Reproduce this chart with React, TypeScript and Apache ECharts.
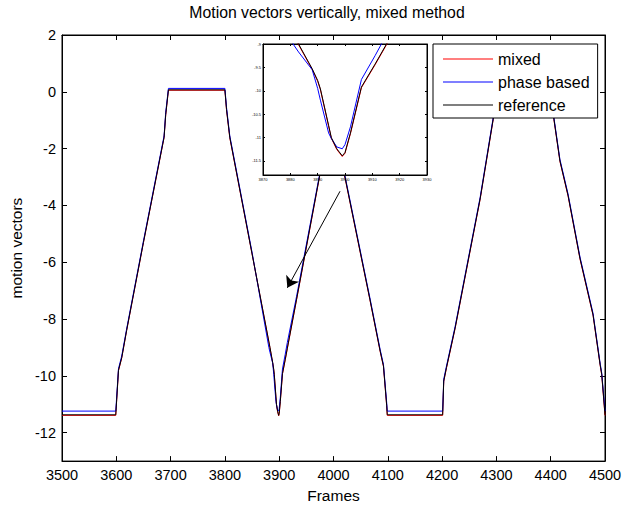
import React, { useEffect, useRef } from "react";
import * as echarts from "echarts";

const frames = [3500, 3599, 3604, 3610, 3619, 3650, 3688, 3691, 3696, 3800, 3803, 3809, 3850, 3881, 3883, 3888, 3890, 3891, 3894, 3895, 3897, 3899, 3900, 3902, 3906, 3911, 3915, 3932, 3975, 3990, 3997, 4004, 4020, 4067, 4086, 4092, 4098, 4099, 4201, 4203, 4208, 4224, 4270, 4294, 4298, 4300, 4400, 4406, 4417, 4432, 4454, 4478, 4491, 4494, 4500];

const mixed = [-11.39, -11.39, -9.82, -9.37, -8.41, -5.31, -1.61, -0.82, 0.055, 0.055, -0.64, -1.62, -5.71, -8.81, -9.015, -9.545, -9.795, -9.975, -10.755, -11.015, -11.255, -11.405, -11.335, -10.915, -9.935, -9.445, -9.035, -7.32, -2.92, -1.42, -0.32, -1.12, -2.92, -7.32, -9.15, -9.67, -11.07, -11.39, -11.39, -10.2, -9.73, -8.33, -3.79, -0.99, -0.22, 0.055, 0.055, -0.99, -2.45, -3.67, -5.89, -7.87, -9.62, -9.97, -11.39];

const phaseBased = [-11.24, -11.24, -9.75, -9.3, -8.35, -5.25, -1.55, -0.72, 0.12, 0.12, -0.55, -1.55, -5.65, -9.0, -9.17, -9.55, -9.95, -10.2, -10.9, -11.02, -11.2, -11.24, -11.15, -10.77, -9.76, -9.25, -8.82, -7.2, -2.85, -1.35, -0.25, -1.05, -2.85, -7.25, -9.08, -9.6, -10.95, -11.24, -11.24, -10.12, -9.66, -8.26, -3.72, -0.92, -0.15, 0.12, 0.12, -0.92, -2.38, -3.6, -5.82, -7.8, -9.55, -9.9, -11.24];

const reference = [-11.37, -11.37, -9.8, -9.36, -8.4, -5.3, -1.6, -0.8, 0.07, 0.07, -0.62, -1.6, -5.7, -8.8, -9.0, -9.53, -9.78, -9.96, -10.74, -11.0, -11.24, -11.39, -11.32, -10.9, -9.92, -9.43, -9.02, -7.3, -2.9, -1.4, -0.3, -1.1, -2.9, -7.3, -9.13, -9.65, -11.05, -11.37, -11.37, -10.18, -9.71, -8.31, -3.77, -0.97, -0.2, 0.07, 0.07, -0.97, -2.43, -3.65, -5.87, -7.85, -9.6, -9.95, -11.37];

const seriesNames = ["mixed", "phase based", "reference"];
const seriesColors = ["#ff0000", "#0000ff", "#000000"];

const xTicks = [3500, 3600, 3700, 3800, 3900, 4000, 4100, 4200, 4300, 4400, 4500];
const yTicks = [-12, -10, -8, -6, -4, -2, 0, 2];
const insetXTicks = [3870, 3880, 3890, 3900, 3910, 3920, 3930];
const insetYTicks = [-11.5, -11, -10.5, -10, -9.5, -9];

const arrowFrom = [4012, -3.5];
const arrowTo = [3915, -6.9];

const FONT = "'Liberation Sans', Arial, Helvetica, sans-serif";

export default function App() {
  const ref = useRef<HTMLDivElement>(null);

  useEffect(() => {
    document.body.style.margin = "0";
    const chart = echarts.init(ref.current!, null, { renderer: "svg" });
    const values = [mixed, phaseBased, reference];
    const toData = (v: number[]) => frames.map((f, i) => [f, v[i]]);
    const plain = (v: number) => String(v);

    const mainSeries = values.map((v, i) => ({
      type: "line",
      name: seriesNames[i],
      data: toData(v),
      xAxisIndex: 0,
      yAxisIndex: 0,
      showSymbol: false,
      symbol: "none",
      color: seriesColors[i],
      lineStyle: { color: seriesColors[i], width: 1 },
      silent: true,
      z: 2,
      ...(i === 2
        ? {
            markLine: {
              silent: true,
              symbol: ["none", "arrow"],
              symbolSize: 11,
              label: { show: false },
              lineStyle: { color: "#000", width: 1, type: "solid" },
              itemStyle: { color: "#000" },
              data: [[{ coord: arrowFrom }, { coord: arrowTo }]],
            },
          }
        : {}),
    }));

    const insetSeries = values.map((v, i) => ({
      type: "line",
      name: seriesNames[i],
      data: toData(v),
      xAxisIndex: 2,
      yAxisIndex: 2,
      showSymbol: false,
      symbol: "none",
      color: seriesColors[i],
      lineStyle: { color: seriesColors[i], width: 1 },
      silent: true,
      clip: true,
      z: 12,
    }));

    const tickStyle = { lineStyle: { color: "#000", width: 1 } };

    chart.setOption({
      animation: false,
      title: {
        text: "Motion vectors vertically, mixed method",
        left: 327,
        top: 4,
        textAlign: "center",
        padding: 0,
        textStyle: { fontSize: 15.8, fontWeight: "normal", color: "#000", fontFamily: FONT },
      },
      legend: {
        orient: "vertical",
        left: 433,
        top: 44,
        data: seriesNames,
        icon: "rect",
        itemWidth: 50,
        itemHeight: 1,
        itemGap: 5,
        selectedMode: false,
        backgroundColor: "#fff",
        borderColor: "#000",
        borderWidth: 1,
        borderRadius: 0,
        padding: [6, 8, 4, 10],
        textStyle: { fontSize: 16, color: "#000", fontFamily: FONT, lineHeight: 18 },
        z: 20,
      },
      grid: [
        { left: 62, right: 21, top: 35, bottom: 45, show: true, borderColor: "#000", borderWidth: 1, backgroundColor: "transparent" },
        { left: 263, top: 44, width: 164, height: 131, show: true, borderColor: "#000", borderWidth: 1, backgroundColor: "#fff", z: 10 },
      ],
      xAxis: [
        {
          type: "value", gridIndex: 0, position: "bottom", min: 3500, max: 4500, interval: 100,
          name: "Frames", nameLocation: "middle", nameGap: 16,
          nameTextStyle: { fontSize: 15.5, color: "#000", fontFamily: FONT },
          axisLine: { show: true, onZero: false, lineStyle: { color: "#000" } },
          axisTick: { show: true, inside: true, length: 5, customValues: xTicks, ...tickStyle },
          axisLabel: { show: true, margin: 6, fontSize: 14.5, color: "#000", fontFamily: FONT, customValues: xTicks, formatter: plain },
          splitLine: { show: false },
        },
        {
          type: "value", gridIndex: 0, position: "top", min: 3500, max: 4500, interval: 100,
          axisLine: { show: true, onZero: false, lineStyle: { color: "#000" } },
          axisTick: { show: true, inside: true, length: 5, customValues: xTicks, ...tickStyle },
          axisLabel: { show: false },
          splitLine: { show: false },
        },
        {
          type: "value", gridIndex: 1, position: "bottom", min: 3870, max: 3930, interval: 10, z: 11,
          axisLine: { show: true, onZero: false, lineStyle: { color: "#000" } },
          axisTick: { show: true, inside: true, length: 2, customValues: insetXTicks, ...tickStyle },
          axisLabel: { show: true, margin: 2, fontSize: 4, color: "#000", fontFamily: FONT, customValues: insetXTicks, formatter: plain },
          splitLine: { show: false },
        },
        {
          type: "value", gridIndex: 1, position: "top", min: 3870, max: 3930, interval: 10, z: 11,
          axisLine: { show: true, onZero: false, lineStyle: { color: "#000" } },
          axisTick: { show: true, inside: true, length: 2, customValues: insetXTicks, ...tickStyle },
          axisLabel: { show: false },
          splitLine: { show: false },
        },
      ],
      yAxis: [
        {
          type: "value", gridIndex: 0, position: "left", min: -13, max: 2,
          name: "motion vectors", nameLocation: "middle", nameGap: 37,
          nameTextStyle: { fontSize: 15.5, color: "#000", fontFamily: FONT },
          axisLine: { show: true, onZero: false, lineStyle: { color: "#000" } },
          axisTick: { show: true, inside: true, length: 5, customValues: yTicks, ...tickStyle },
          axisLabel: { show: true, margin: 6, fontSize: 14.5, color: "#000", fontFamily: FONT, customValues: yTicks, formatter: plain },
          splitLine: { show: false },
        },
        {
          type: "value", gridIndex: 0, position: "right", min: -13, max: 2,
          axisLine: { show: true, onZero: false, lineStyle: { color: "#000" } },
          axisTick: { show: true, inside: true, length: 5, customValues: yTicks, ...tickStyle },
          axisLabel: { show: false },
          splitLine: { show: false },
        },
        {
          type: "value", gridIndex: 1, position: "left", min: -11.8, max: -9, z: 11,
          axisLine: { show: true, onZero: false, lineStyle: { color: "#000" } },
          axisTick: { show: true, inside: true, length: 2, customValues: insetYTicks, ...tickStyle },
          axisLabel: { show: true, margin: 2, fontSize: 4, color: "#000", fontFamily: FONT, customValues: insetYTicks, formatter: plain },
          splitLine: { show: false },
        },
        {
          type: "value", gridIndex: 1, position: "right", min: -11.8, max: -9, z: 11,
          axisLine: { show: true, onZero: false, lineStyle: { color: "#000" } },
          axisTick: { show: true, inside: true, length: 2, customValues: insetYTicks, ...tickStyle },
          axisLabel: { show: false },
          splitLine: { show: false },
        },
      ],
      series: [...mainSeries, ...insetSeries],
    });

    return () => chart.dispose();
  }, []);

  return <div ref={ref} style={{ width: 626, height: 508, background: "#fff" }} />;
}
